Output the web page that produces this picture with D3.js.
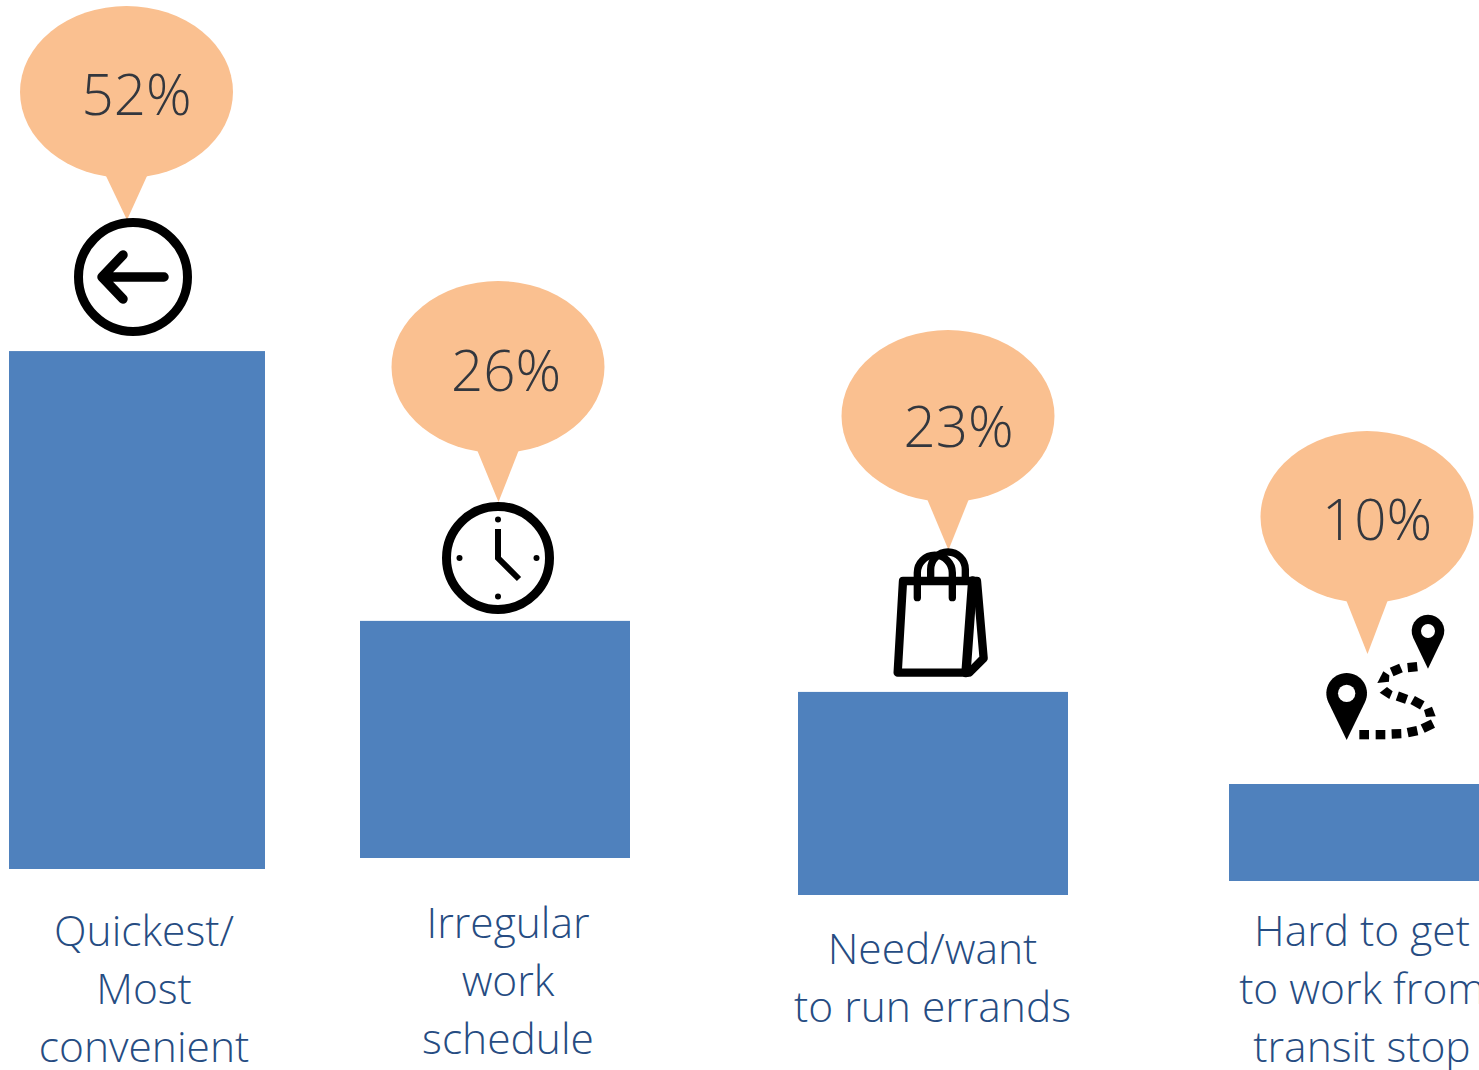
<!DOCTYPE html>
<html>
<head>
<meta charset="utf-8">
<script src="https://cdnjs.cloudflare.com/ajax/libs/d3/7.8.5/d3.min.js"></script>
<style>
html, body { margin: 0; padding: 0; background: #fff; overflow: hidden; }
svg { display: block; }
text { font-family: "Open Sans", sans-serif; font-weight: 300; text-anchor: middle; }
</style>
</head>
<body>
<svg id="chart" width="1479" height="1070"></svg>
<script>
// Reasons for choosing the route, one panel per reason
const reasons = ["quickest", "schedule", "errands", "transit"];
const shares = [52, 26, 23, 10];
const shareLabels = ["52%", "26%", "23%", "10%"];
const reasonLines = [
  ["Quickest/", "Most", "convenient"],
  ["Irregular", "work", "schedule"],
  ["Need/want", "to run errands"],
  ["Hard to get", "to work from", "transit stop"]
];

// Panel layout: each bar stands on its own baseline and has its own scale
const barLeft = [9, 360, 798, 1229];
const barWidth = [256, 270, 270, 270];
const baseline = [869, 858, 895, 881];
const fullHeight = [996, 912, 883, 970];   // height of a 100% bar in each panel
const bubbleX = [126.5, 498, 948, 1367];
const bubbleY = [92, 367, 416, 517];
const tailTip = [220, 502, 550, 654];
const valueX = [136.5, 506, 958.5, 1377];
const valueY = [115, 391, 447, 540];
const labelX = [144, 508, 932.5, 1362];
const labelY = [946, 938, 964, 946];

const BAR = "#4f81bd", BUBBLE = "#fac090", VALUE = "#33373e", LABEL = "#264c82", INK = "#000";

const svg = d3.select("#chart");
const heightScales = fullHeight.map(h => d3.scaleLinear().domain([0, 100]).range([0, h]));

// Bars
svg.selectAll("rect.bar").data(reasons).join("rect")
  .attr("class", "bar")
  .attr("x", (d, i) => barLeft[i])
  .attr("width", (d, i) => barWidth[i])
  .attr("y", (d, i) => baseline[i] - heightScales[i](shares[i]))
  .attr("height", (d, i) => heightScales[i](shares[i]))
  .attr("fill", BAR);

// Speech bubbles holding the percentages
const bubble = svg.selectAll("g.bubble").data(reasons).join("g").attr("class", "bubble");
bubble.append("ellipse")
  .attr("cx", (d, i) => bubbleX[i]).attr("cy", (d, i) => bubbleY[i])
  .attr("rx", 106.5).attr("ry", 86).attr("fill", BUBBLE);
bubble.append("path")
  .attr("d", (d, i) => {
    const x = bubbleX[i], y = bubbleY[i] + 84;
    return `M${x - 20.5},${y} L${x + 20.5},${y} L${x + 0.5},${tailTip[i]} Z`;
  })
  .attr("fill", BUBBLE);
bubble.append("text")
  .attr("x", (d, i) => valueX[i]).attr("y", (d, i) => valueY[i])
  .attr("font-size", 56.5).attr("fill", VALUE)
  .text((d, i) => shareLabels[i]);

// Category labels, one text element per line
svg.selectAll("g.label").data(reasons).join("g").attr("class", "label")
  .each(function (d, i) {
    d3.select(this).selectAll("text").data(reasonLines[i]).join("text")
      .attr("x", labelX[i])
      .attr("y", (line, j) => labelY[i] + j * 58)
      .attr("font-size", 42.5)
      .attr("fill", LABEL)
      .text(line => line);
  });

// Back-arrow icon
const arrow = svg.append("g").attr("fill", "none").attr("stroke", INK);
arrow.append("circle").attr("cx", 133).attr("cy", 277).attr("r", 54.5).attr("stroke-width", 9);
arrow.append("path")
  .attr("d", "M164,277 H102 M123,255 L102,277 L123,299")
  .attr("stroke-width", 9.5).attr("stroke-linecap", "round").attr("stroke-linejoin", "round");

// Clock icon
const clock = svg.append("g").attr("transform", "translate(498,558)");
clock.append("circle").attr("r", 51.5).attr("fill", "#fff").attr("stroke", INK).attr("stroke-width", 9);
clock.selectAll("circle.dot").data([0, 90, 180, 270]).join("circle")
  .attr("class", "dot").attr("r", 3)
  .attr("cx", a => 38.5 * Math.sin(a * Math.PI / 180))
  .attr("cy", a => -38.5 * Math.cos(a * Math.PI / 180))
  .attr("fill", INK);
clock.append("path").attr("d", "M0,-29 V0 L21,21")
  .attr("fill", "none").attr("stroke", INK).attr("stroke-width", 6);

// Shopping bag icon, authored at three times its drawn size
const bag = svg.append("g")
  .attr("transform", "translate(860,530) scale(0.3333)")
  .attr("fill", "none").attr("stroke", INK).attr("stroke-width", 25)
  .attr("stroke-linecap", "round").attr("stroke-linejoin", "round");
bag.append("path").attr("d", "M172,203 V128 A52.5,52.5 0 0 1 277,128 V203").attr("stroke-width", 22);
bag.append("path").attr("d", "M212,150 V118 A52,52 0 0 1 316,118 V150").attr("stroke-width", 22);
bag.append("path").attr("d", "M129,153 H351 L371,385 L328,428 H113 Z");
bag.append("path").attr("d", "M338,153 L318,428").attr("stroke-width", 28);

// Route icon: two pins joined by a dashed path
const route = svg.append("g").attr("transform", "translate(1300,600) scale(0.3333)");
const pin = (cx, cy, r, tip) => {
  const a = Math.acos(r / (tip - cy));
  const dx = r * Math.sin(a), dy = r * Math.cos(a);
  return `M${cx - dx},${cy + dy} A${r},${r} 0 1 1 ${cx + dx},${cy + dy} L${cx},${tip} Z`;
};
route.append("path").attr("d", pin(140, 280, 61, 420)).attr("fill", INK);
route.append("circle").attr("cx", 140).attr("cy", 280).attr("r", 26).attr("fill", "#fff");
route.append("path").attr("d", pin(384, 93, 49, 206)).attr("fill", INK);
route.append("circle").attr("cx", 384).attr("cy", 93).attr("r", 21).attr("fill", "#fff");
route.append("g").attr("stroke", INK).attr("stroke-width", 28).attr("fill", "none")
  .selectAll("path")
  .data([
    "M178,404 H207", "M227,404 H256", "M275,402 L304,401", "M323,398 L352,392",
    "M368,386 L399,371",
    "M367,316 L338,300", "M320,298 L292,288",
    "M275,216 L303,204", "M323,203 L352,200"
  ])
  .join("path").attr("d", d => d);
route.append("path").attr("d", "M378,351 L407,349 L396,320 L372,330 Z").attr("fill", INK);
route.append("path").attr("d", "M239,278 L261,261 L278,274 L268,297 Z").attr("fill", INK);
route.append("path").attr("d", "M232,249 L267,245 L268,226 L250,214 Z").attr("fill", INK);
</script>
</body>
</html>
